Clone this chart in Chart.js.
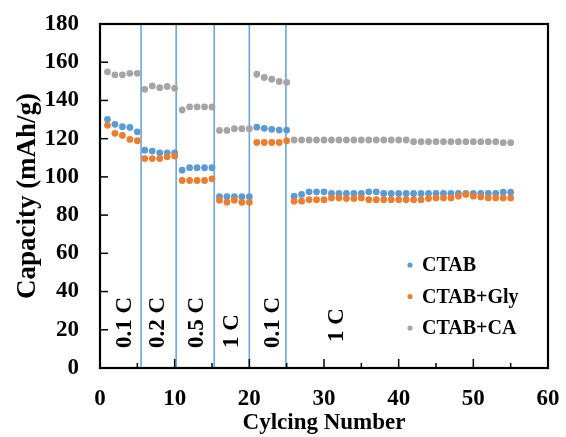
<!DOCTYPE html>
<html>
<head>
<meta charset="utf-8">
<script src="https://cdn.jsdelivr.net/npm/chart.js@4"></script>
<style>
  body { margin: 0; background: #fff; }
  #wrap { width: 566px; height: 437px; }
</style>
</head>
<body>
<div id="wrap"><canvas id="rateChart"></canvas></div>
<script>
// Cycle numbers
const cycles = [1, 2, 3, 4, 5, 6, 7, 8, 9, 10, 11, 12, 13, 14, 15, 16, 17, 18, 19, 20,
  21, 22, 23, 24, 25, 26, 27, 28, 29, 30, 31, 32, 33, 34, 35, 36, 37, 38, 39, 40,
  41, 42, 43, 44, 45, 46, 47, 48, 49, 50, 51, 52, 53, 54, 55];

// Capacity values (mAh/g)
const ctab = [130.1, 127.5, 126.3, 125.9, 123.6,
  114.0, 113.5, 112.6, 112.6, 112.6,
  103.5, 104.8, 104.8, 104.8, 104.8,
  89.6, 89.6, 89.6, 89.6, 89.6,
  126.0, 125.4, 124.9, 124.5, 124.5,
  89.9, 90.8, 92.2, 92.2, 92.2, 91.3, 91.3, 91.3, 91.3, 91.3,
  92.2, 92.2, 91.3, 91.3, 91.3, 91.3, 91.3, 91.3, 91.3, 91.3,
  91.3, 91.3, 91.3, 91.3, 91.3, 91.3, 91.3, 91.3, 92.0, 92.0];
const ctabGly = [127.0, 122.8, 121.7, 119.6, 118.9,
  109.6, 109.6, 109.6, 110.5, 110.9,
  98.1, 98.1, 98.1, 98.1, 99.0,
  87.8, 86.7, 87.8, 86.7, 86.7,
  118.0, 118.0, 118.0, 118.0, 118.9,
  87.3, 87.3, 88.1, 88.1, 88.1, 89.0, 89.0, 88.7, 88.7, 89.0,
  88.1, 88.1, 88.1, 88.1, 88.1, 88.1, 88.1, 88.1, 88.7, 89.0,
  89.0, 89.0, 89.9, 90.8, 89.9, 89.5, 89.0, 89.0, 89.0, 89.0];
const ctabCa = [155.0, 153.4, 153.4, 154.2, 154.2,
  145.8, 147.6, 146.7, 147.3, 146.4,
  135.0, 136.6, 136.6, 136.6, 136.6,
  124.3, 124.3, 125.2, 125.2, 125.2,
  153.7, 152.0, 151.1, 149.9, 149.5,
  119.3, 119.3, 119.3, 119.3, 119.3, 119.3, 119.3, 119.3, 119.3, 119.3,
  119.3, 119.3, 119.3, 119.3, 119.3, 119.3, 118.4, 118.4, 118.4, 118.4,
  118.4, 118.4, 118.4, 118.4, 118.4, 118.4, 118.4, 118.4, 117.9, 117.9];

// Rate steps: divider cycles and labels
const dividers = [5.5, 10.2, 15.3, 20, 24.9];
const rateLabels = ["0.1 C", "0.2 C", "0.5 C", "1 C", "0.1 C", "1 C"];
const rateLabelX = [3.3, 7.8, 13.0, 17.7, 23.2, 31.7];
const rateLabelY = [10.5, 10.5, 10.5, 10.5, 10.5, 13.6];

const serif = "'Liberation Serif', 'Times New Roman', serif";

function toPoints(values) {
  return values.map((v, i) => ({ x: cycles[i], y: v }));
}

// Blue divider lines behind the points
const dividerPlugin = {
  id: "dividers",
  beforeDatasetsDraw(chart) {
    const { ctx, chartArea, scales } = chart;
    ctx.save();
    ctx.strokeStyle = "rgba(91, 155, 213, 0.9)";
    ctx.lineWidth = 1.6;
    dividers.forEach((d) => {
      const x = scales.x.getPixelForValue(d);
      ctx.beginPath();
      ctx.moveTo(x, chartArea.top);
      ctx.lineTo(x, chartArea.bottom);
      ctx.stroke();
    });
    ctx.restore();
  },
};

// Frame, inward tick marks, rate labels and legend
const decorPlugin = {
  id: "decor",
  afterDraw(chart) {
    const { ctx, chartArea, scales } = chart;
    const { left, right, top, bottom } = chartArea;
    ctx.save();

    // rate labels
    ctx.fillStyle = "#000";
    ctx.font = "bold 23px " + serif;
    ctx.textAlign = "left";
    ctx.textBaseline = "middle";
    rateLabels.forEach((t, i) => {
      const x = scales.x.getPixelForValue(rateLabelX[i]);
      const y = scales.y.getPixelForValue(rateLabelY[i]);
      ctx.save();
      ctx.translate(x, y);
      ctx.rotate(-Math.PI / 2);
      ctx.fillText(t, 0, 0);
      ctx.restore();
    });

    // ticks
    ctx.strokeStyle = "#000";
    ctx.lineWidth = 1.5;
    scales.y.ticks.forEach((t) => {
      const y = scales.y.getPixelForValue(t.value);
      ctx.beginPath();
      ctx.moveTo(left, y);
      ctx.lineTo(left + 8, y);
      ctx.stroke();
    });
    scales.x.ticks.forEach((t) => {
      const x = scales.x.getPixelForValue(t.value);
      const len = t.value % 10 === 0 ? 9 : 5;
      ctx.beginPath();
      ctx.moveTo(x, bottom);
      ctx.lineTo(x, bottom - len);
      ctx.stroke();
    });

    // frame
    ctx.lineWidth = 2.2;
    ctx.strokeRect(left, top, right - left, bottom - top);

    // legend
    ctx.font = "bold 20px " + serif;
    chart.data.datasets.forEach((ds, i) => {
      const y = top + 241 + i * 31.5;
      ctx.fillStyle = ds.backgroundColor;
      ctx.beginPath();
      ctx.arc(left + 310, y, 2.6, 0, Math.PI * 2);
      ctx.fill();
      ctx.fillStyle = "#000";
      ctx.fillText(ds.label, left + 322, y + 1);
    });
    ctx.restore();
  },
};

const chart = new Chart(document.getElementById("rateChart"), {
  type: "scatter",
  data: {
    datasets: [
      { label: "CTAB", data: toPoints(ctab), backgroundColor: "#5B9BD5", order: 3 },
      { label: "CTAB+Gly", data: toPoints(ctabGly), backgroundColor: "#ED7D31", order: 2 },
      { label: "CTAB+CA", data: toPoints(ctabCa), backgroundColor: "#A5A5A5", order: 1 },
    ],
  },
  options: {
    responsive: true,
    maintainAspectRatio: false,
    animation: false,
    layout: { padding: { left: 0, right: 18, top: 24, bottom: 0 } },
    elements: { point: { radius: 3.4, borderWidth: 0, hoverRadius: 3.4 } },
    plugins: { legend: { display: false }, tooltip: { enabled: false } },
    scales: {
      x: {
        type: "linear",
        min: 0,
        max: 60,
        afterFit: (s) => {
          s.height = 69;
          s.paddingLeft = 0;
          s.paddingRight = 0;
        },
        grid: { display: false, drawTicks: false },
        border: { display: false },
        ticks: {
          stepSize: 5,
          padding: 17,
          color: "#000",
          font: { family: serif, size: 23, weight: "bold" },
          callback: (v) => (v % 10 === 0 ? v : ""),
          maxRotation: 0,
          autoSkip: false,
        },
        title: {
          display: true,
          text: "Cylcing Number",
          color: "#000",
          font: { family: serif, size: 23, weight: "bold" },
          padding: { top: 0, bottom: 0 },
        },
      },
      y: {
        min: 0,
        max: 180,
        afterFit: (s) => {
          s.width = 100;
          s.paddingTop = 0;
          s.paddingBottom = 0;
        },
        grid: { display: false, drawTicks: false },
        border: { display: false },
        ticks: {
          stepSize: 20,
          padding: 21,
          color: "#000",
          font: { family: serif, size: 23, weight: "bold" },
        },
        title: {
          display: true,
          text: "Capacity (mAh/g)",
          color: "#000",
          font: { family: serif, size: 27, weight: "bold" },
          padding: { top: 12, bottom: 0 },
        },
      },
    },
  },
  plugins: [dividerPlugin, decorPlugin],
});
</script>
</body>
</html>
